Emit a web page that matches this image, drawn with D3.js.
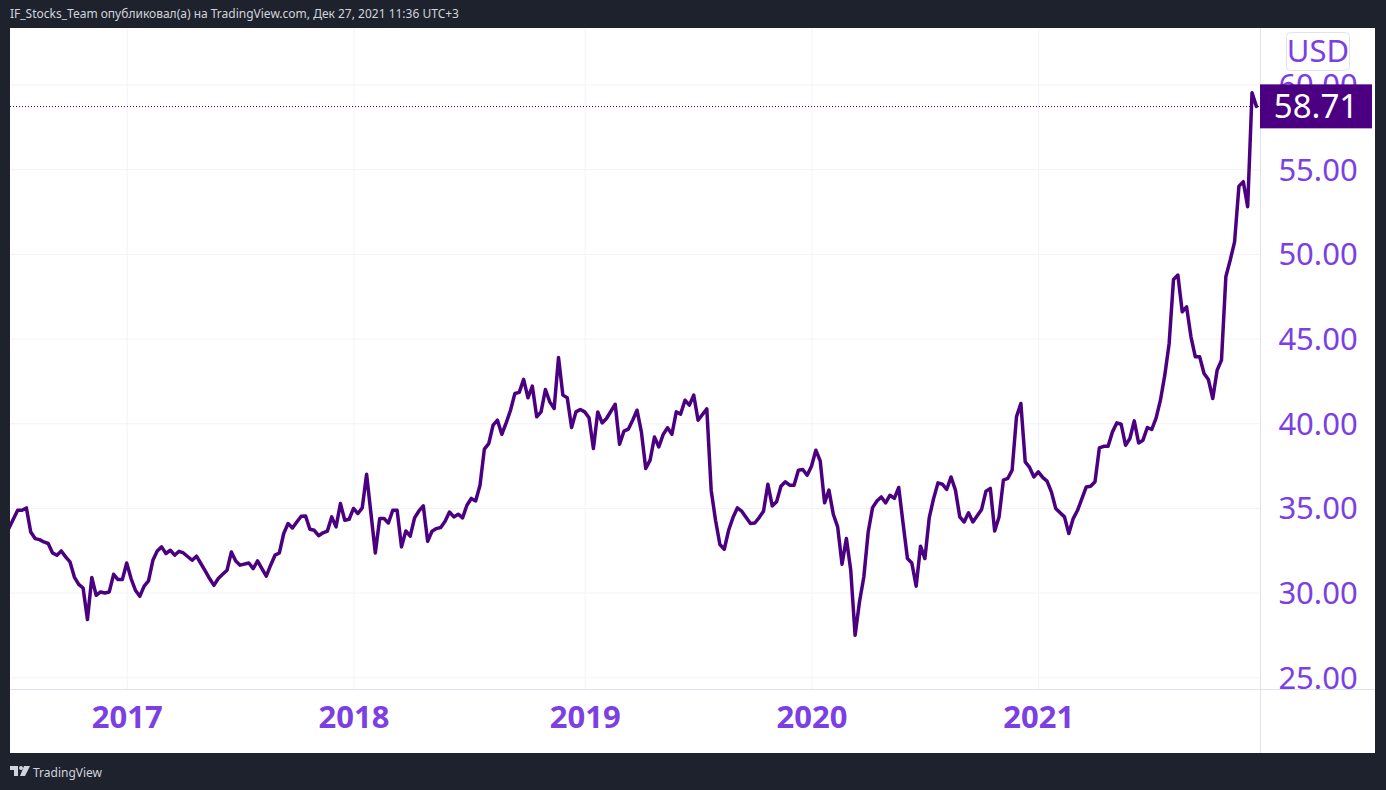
<!DOCTYPE html>
<html>
<head>
<meta charset="utf-8">
<script src="https://cdn.jsdelivr.net/npm/d3@7"></script>
<style>
  html, body { margin: 0; padding: 0; background: #1e222d; }
  svg { display: block; }
</style>
</head>
<body>
<svg id="chart" width="1386" height="790"></svg>
<script>
// weekly closes, week index counted from the bar of 2017-01-02
const weeks = [-27,-25,-24,-23,-22,-21,-20,-19,-18,-17,-16,-15,-14,-13,-12,-11,-10,-9,-8,-7,-6,-5,-4,-3,-2,-1,
  0,1,2,3,4,5,6,7,8,9,10,11,12,13,15,16,17,18,19,20,21,22,23,24,25,26,28,29,30,31,32,33,34,35,36,37,38,39,40,41,
  42,43,44,45,46,47,48,49,50,51,52,53,54,55,56,57,58,59,60,61,62,63,64,65,66,67,68,69,70,71,72,73,74,75,76,77,78,79,80,
  81,82,83,84,85,86,87,88,89,90,91,92,93,94,95,96,97,98,99,100,101,102,103,104,105,106,107,108,109,110,112,113,114,115,
  116,117,118,119,120,121,122,123,124,125,126,127,128,129,130,131,133,134,135,136,137,138,139,140,141,143,144,145,146,
  147,148,149,150,151,152,153,154,155,156,157,158,159,160,161,162,163,164,165,166,167,168,169,170,171,172,173,174,175,
  176,177,178,179,180,181,182,183,184,185,186,187,188,189,190,191,192,193,194,196,197,198,199,200,201,202,203,204,205,
  206,207,208,209,210,211,212,213,214,215,216,217,218,220,221,222,223,224,225,226,227,228,229,230,231,232,233,234,235,
  236,237,238,239,240,241,242,243,244,245,246,247,248,249,250,251,252,253,254,255,256,257,258,259];

const prices = [33.80,34.86,34.86,35.00,33.58,33.19,33.13,32.99,32.90,32.34,32.21,32.46,32.11,31.81,30.92,30.49,30.27,28.41,30.89,29.84,30.04,29.98,30.04,31.08,30.77,30.77,
  31.75,30.83,30.14,29.78,30.38,30.69,31.91,32.46,32.70,32.31,32.50,32.21,32.44,32.34,31.91,32.15,31.72,31.28,30.83,30.43,30.83,31.08,31.32,32.40,31.87,31.62,31.75,31.42,31.87,31.42,30.97,31.62,32.21,32.34,33.49,34.08,33.82,34.17,34.51,34.53,
  33.74,33.68,33.36,33.53,33.63,34.47,33.88,35.26,34.27,34.33,34.97,34.67,35.00,36.99,34.67,32.34,34.37,34.37,34.11,34.86,34.86,32.70,33.64,33.33,34.41,34.82,35.12,33.03,33.62,33.78,33.84,34.21,34.76,34.47,34.63,34.41,35.16,35.56,35.41,
  36.34,38.47,38.80,39.89,40.18,39.35,40.02,40.77,41.76,41.82,42.59,41.50,42.19,40.38,40.67,41.99,41.26,40.87,43.88,41.66,41.50,39.75,40.67,40.81,40.67,40.32,38.51,40.67,40.02,40.28,41.12,38.76,39.53,39.65,
  40.18,40.77,39.49,37.33,37.82,39.19,38.60,39.34,39.73,39.35,40.67,40.54,41.36,41.07,41.66,40.18,40.85,36.05,34.27,32.84,32.56,33.68,34.43,35.00,34.81,34.08,34.11,34.43,34.81,
  36.40,35.12,35.36,36.28,36.54,36.34,36.34,37.23,37.27,36.93,37.46,38.41,37.78,35.30,36.05,34.63,33.88,31.67,33.19,31.32,27.48,29.45,30.92,33.58,35.02,35.41,35.65,35.30,35.75,
  35.56,36.21,34.08,32.01,31.75,30.38,32.74,32.01,34.43,35.56,36.48,36.40,36.09,36.83,36.05,34.47,34.17,34.71,34.17,34.91,35.99,36.15,33.64,34.47,36.64,36.74,37.23,40.38,41.17,
  37.72,37.39,36.83,37.13,36.80,36.58,35.95,34.97,34.71,34.47,33.49,34.37,34.86,36.24,36.28,36.54,38.54,38.64,38.64,39.49,40.02,39.94,38.70,39.10,40.14,38.84,39.00,39.75,39.63,
  40.30,41.36,42.84,44.71,48.49,48.75,46.58,46.87,45.10,43.92,43.92,42.94,42.58,41.46,43.13,43.73,48.65,49.63,50.71,54.00,54.26,52.78,59.51,58.71];

const yearWeeks = [0, 52, 105, 157, 209];
const yearLabels = ["2017", "2018", "2019", "2020", "2021"];
const priceTicks = [25, 30, 35, 40, 45, 50, 55, 60];
const lastPrice = 58.71;

const W = 1386, H = 790;
const panel = { left: 10, top: 28, right: 1375, bottom: 753 };
const plot = { left: 10, top: 28, right: 1260, bottom: 689 };

const LINE_COLOR = "#4b0082";
const TEXT_COLOR = "#7b3fe4";
const GRID = "#f0f3fa";
const BORDER = "#e0e3eb";
const FONT = "'Noto Sans', sans-serif";

const svg = d3.select("#chart");

// dark frame + white chart panel
svg.append("rect").attr("width", W).attr("height", H).attr("fill", "#1e222d");
svg.append("rect")
  .attr("x", panel.left).attr("y", panel.top)
  .attr("width", panel.right - panel.left).attr("height", panel.bottom - panel.top)
  .attr("fill", "#ffffff");

const x = d3.scaleLinear().domain([0, 209]).range([126.7, 1038.3]);
const y = d3.scaleLinear().domain([25, 60]).range([677.3, 84.5]);

// grid
svg.append("g").attr("class", "grid-y")
  .attr("transform", `translate(${plot.left},0)`)
  .call(d3.axisLeft(y).tickValues(priceTicks).tickSize(-(plot.right - plot.left)).tickFormat(""))
  .call(g => g.select(".domain").remove())
  .call(g => g.selectAll("line").attr("stroke", GRID).attr("stroke-width", 1));

svg.append("g").attr("class", "grid-x")
  .attr("transform", `translate(0,${plot.top})`)
  .call(d3.axisTop(x).tickValues(yearWeeks).tickSize(-(plot.bottom - plot.top)).tickFormat(""))
  .call(g => g.select(".domain").remove())
  .call(g => g.selectAll("line").attr("stroke", GRID).attr("stroke-width", 1));

// axis separators
svg.append("line")
  .attr("x1", plot.right + 0.5).attr("x2", plot.right + 0.5)
  .attr("y1", panel.top).attr("y2", panel.bottom)
  .attr("stroke", BORDER);
svg.append("line")
  .attr("x1", panel.left).attr("x2", panel.right)
  .attr("y1", plot.bottom + 0.5).attr("y2", plot.bottom + 0.5)
  .attr("stroke", BORDER);

// clip for the series
svg.append("clipPath").attr("id", "plot-clip")
  .append("rect")
  .attr("x", plot.left).attr("y", plot.top)
  .attr("width", plot.right - plot.left).attr("height", plot.bottom - plot.top);

const series = weeks.map((w, i) => ({ w: w, v: prices[i] }));

const plotG = svg.append("g").attr("clip-path", "url(#plot-clip)");

// last price dotted line
plotG.append("line")
  .attr("x1", plot.left).attr("x2", plot.right)
  .attr("y1", Math.round(y(lastPrice)) + 0.5).attr("y2", Math.round(y(lastPrice)) + 0.5)
  .attr("stroke", LINE_COLOR)
  .attr("stroke-width", 1)
  .attr("stroke-dasharray", "1,2");

plotG.append("path")
  .datum(series)
  .attr("fill", "none")
  .attr("stroke", LINE_COLOR)
  .attr("stroke-width", 3.5)
  .attr("stroke-linejoin", "round")
  .attr("stroke-linecap", "round")
  .attr("d", d3.line().x(d => x(d.w)).y(d => y(d.v)));

// price axis labels
svg.append("g").attr("class", "y-axis")
  .attr("transform", `translate(1318,0)`)
  .call(d3.axisRight(y).tickValues(priceTicks).tickSize(0).tickPadding(0).tickFormat(d => d.toFixed(2)))
  .call(g => g.select(".domain").remove())
  .call(g => g.selectAll("text")
    .attr("text-anchor", "middle")
    .attr("dy", "0.35em")
    .attr("fill", TEXT_COLOR)
    .style("font-family", FONT)
    .style("font-size", "31px"));

// time axis labels
svg.append("g").attr("class", "x-axis")
  .attr("transform", `translate(0,${plot.bottom})`)
  .call(d3.axisBottom(x).tickValues(yearWeeks).tickSize(0).tickPadding(0).tickFormat((d, i) => yearLabels[i]))
  .call(g => g.select(".domain").remove())
  .call(g => g.selectAll("text")
    .attr("y", 39)
    .attr("dy", 0)
    .attr("fill", TEXT_COLOR)
    .style("font-family", FONT)
    .style("font-weight", "bold")
    .style("font-size", "31px"));

// currency box
svg.append("rect")
  .attr("x", 1286.5).attr("y", 32.5).attr("width", 63).attr("height", 38).attr("rx", 4)
  .attr("fill", "#ffffff").attr("stroke", BORDER);
svg.append("text")
  .attr("x", 1318).attr("y", 62)
  .attr("text-anchor", "middle")
  .attr("fill", TEXT_COLOR)
  .style("font-family", FONT)
  .style("font-size", "31px")
  .text("USD");

// last price label
svg.append("rect")
  .attr("x", plot.right).attr("y", y(lastPrice) - 22)
  .attr("width", 112).attr("height", 44)
  .attr("fill", LINE_COLOR);
svg.append("text")
  .attr("x", 1316).attr("y", y(lastPrice))
  .attr("dy", "0.36em")
  .attr("text-anchor", "middle")
  .attr("fill", "#ffffff")
  .style("font-family", FONT)
  .style("font-size", "33px")
  .text(lastPrice.toFixed(2));

// header + footer
svg.append("text")
  .attr("x", 10).attr("y", 18)
  .attr("fill", "#d1d4dc")
  .style("font-family", FONT)
  .style("font-size", "12px")
  .text("IF_Stocks_Team опубликовал(а) на TradingView.com, Дек 27, 2021 11:36 UTC+3");

const logo = svg.append("g").attr("transform", "translate(10,766)").attr("fill", "#d1d4dc");
logo.append("path").attr("d", "M0,0 H8 V10 H4 V4 H0 Z");
logo.append("circle").attr("cx", 11).attr("cy", 2).attr("r", 2);
logo.append("path").attr("d", "M14,0 H20 L15,10 H10 Z");

svg.append("text")
  .attr("x", 33).attr("y", 777)
  .attr("fill", "#d1d4dc")
  .style("font-family", FONT)
  .style("font-size", "12px")
  .text("TradingView");
</script>
</body>
</html>
